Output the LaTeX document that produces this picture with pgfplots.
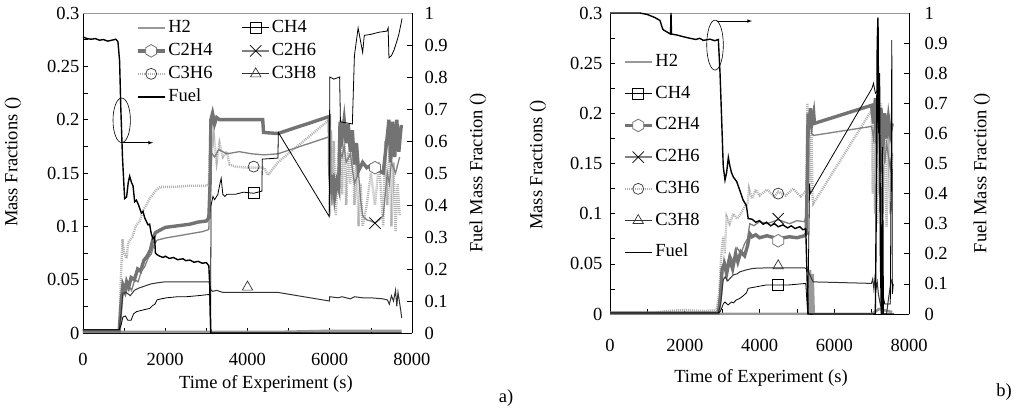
\documentclass[border=0pt]{standalone}
\usepackage{fontspec}
\setmainfont{Liberation Serif}
\usepackage{pgfplots}
\pgfplotsset{compat=1.18}

\newcommand\fs{\fontsize{18.5}{22}\selectfont}

% hexagon marker (not in the plotmarks library)
\pgfdeclareplotmark{hexagon}{%
  \pgfpathmoveto{\pgfpointpolar{90}{\pgfplotmarksize}}%
  \pgfpathlineto{\pgfpointpolar{150}{\pgfplotmarksize}}%
  \pgfpathlineto{\pgfpointpolar{210}{\pgfplotmarksize}}%
  \pgfpathlineto{\pgfpointpolar{270}{\pgfplotmarksize}}%
  \pgfpathlineto{\pgfpointpolar{330}{\pgfplotmarksize}}%
  \pgfpathlineto{\pgfpointpolar{30}{\pgfplotmarksize}}%
  \pgfpathclose
  \pgfusepathqfillstroke}

\pgfplotsset{
  base/.style={
    scale only axis, xmin=0, xmax=8000,
    tick align=inside, major tick length=5pt, minor tick length=5pt,
    tick style={black, line width=0.6pt},
    axis line style={black, line width=0.8pt},
    /pgf/number format/assume math mode=true,
    tick label style={font=\fs},
    clip mode=individual,
  },
  massax/.style={base,
    axis x line*=bottom, axis y line*=left,
    ymin=0, ymax=0.3,
    xtick={0,2000,4000,6000,8000}, minor xtick={1000,3000,5000,7000},
    ytick={0,0.05,0.1,0.15,0.2,0.25,0.3},
    minor ytick={0.025,0.075,0.125,0.175,0.225,0.275},
    scaled ticks=false,
    xticklabel style={/pgf/number format/1000 sep={}},
    yticklabel style={/pgf/number format/fixed, /pgf/number format/precision=2},
    xlabel={Time of Experiment (s)}, ylabel={Mass Fractions ()},
    legend cell align=left,
    legend style={draw=none, fill=none, inner sep=0pt, outer sep=0pt, font=\fs,
      column sep=0pt, anchor=north west,
      nodes={inner xsep=2pt, inner ysep=0pt, text height=12pt, text depth=3pt}},
    legend image code/.code={\draw[mark repeat=2,mark phase=2]
      plot coordinates {(0pt,0pt) (13.5pt,0pt) (27pt,0pt)};},
  },
  fuelax/.style={base,
    axis x line*=top, axis y line*=right, x axis line style={black!40},
    xtick=\empty, ymin=0, ymax=1,
    ytick={0,0.1,0.2,0.3,0.4,0.5,0.6,0.7,0.8,0.9,1},
    yticklabel style={/pgf/number format/fixed, /pgf/number format/precision=1},
    ylabel={Fuel Mass Fraction ()},
  },
  h2/.style={black!40, line width=2.6pt},
  ch4/.style={black, line width=0.8pt, mark=square, mark size=5.5pt,
    mark options={solid, fill=white, line width=0.7pt}},
  c2h4/.style={black!55, line width=3.4pt, mark=hexagon, mark size=6.3pt,
    mark options={solid, fill=white, line width=0.8pt}},
  c2h6/.style={black!50, line width=1.3pt, mark=x, mark size=8pt,
    mark options={solid, black, line width=0.8pt}},
  c3h6/.style={black!30, line width=2.4pt, dash pattern=on 1pt off 1pt,
    mark=o, mark size=5.5pt, mark options={solid, draw=black!80, fill=white, line width=0.7pt}},
  c3h8/.style={black!80, line width=1pt, mark=triangle, mark size=6pt,
    mark options={solid, fill=white, line width=0.7pt}},
  fuel/.style={black, line width=1.4pt},
}

\begin{document}
\begin{tikzpicture}
\useasboundingbox (0,0) rectangle (1023pt,410pt);

% ---------------- panel a ----------------
\begin{axis}[massax, at={(83pt,77pt)}, anchor=south west, width=329pt, height=320pt,
  xticklabel style={yshift=-16.5pt},
  every axis x label/.style={at={(axis description cs:0.556,-0.159)}, anchor=center, font=\fs},
  every axis y label/.style={at={(axis description cs:-0.213,0.534)}, anchor=center, rotate=90, font=\fs},
  legend columns=2,
  legend style={at={(axis description cs:0.161,0.977)}, row sep=8pt,
    /tikz/every even column/.append style={column sep=27pt}},
]
\addplot[h2] coordinates {(0,0.001) (3100,0.001) (4750,0.001) (6000,0.002) (7750,0.002)};
\addlegendentry{H2}

\addplot[c3h6, mark=none, forget plot] coordinates {
 (0,0.002) (880,0.002) (920,0.05) (960,0.088) (1000,0.075) (1060,0.07) (1100,0.085)
 (1200,0.09) (1280,0.1) (1380,0.105) (1460,0.115) (1540,0.12) (1620,0.126) (1700,0.13)
 (1800,0.135) (1900,0.137) (2200,0.137) (2600,0.138) (3000,0.138) (3060,0.14) (3090,0.175)
 (3120,0.165) (3180,0.185) (3250,0.16) (3320,0.178) (3400,0.165) (3500,0.17) (3560,0.158)
 (3700,0.156) (4000,0.155) (4150,0.155) (4400,0.155) (4500,0.148) (4740,0.16) (5990,0.2)
 (6000,0.11) (6030,0.19) (6060,0.12) (6100,0.18) (6150,0.11) (6200,0.16) (6260,0.2)
 (6300,0.13) (6350,0.19) (6400,0.12) (6450,0.17) (6500,0.14) (6550,0.18) (6600,0.12)
 (6650,0.16) (6700,0.1) (6750,0.14) (6800,0.1) (6900,0.12) (7000,0.15) (7100,0.12)
 (7200,0.16) (7300,0.1) (7350,0.18) (7400,0.12) (7450,0.17) (7500,0.1) (7550,0.16)
 (7600,0.095) (7650,0.14) (7700,0.11)};
\addplot[c2h6, mark=none, forget plot] coordinates {
 (0,0.002) (880,0.002) (930,0.025) (970,0.04) (1030,0.035) (1100,0.045) (1180,0.04)
 (1260,0.05) (1340,0.048) (1420,0.058) (1500,0.062) (1580,0.07) (1660,0.074) (1720,0.082)
 (1800,0.087) (2000,0.089) (2300,0.091) (2600,0.093) (2900,0.095) (3060,0.097) (3100,0.17)
 (3200,0.165) (3300,0.172) (3500,0.168) (3800,0.17) (4100,0.168) (4400,0.167) (4740,0.168)
 (5990,0.184) (6000,0.14) (6050,0.125) (6100,0.15) (6150,0.13) (6200,0.148) (6250,0.17)
 (6300,0.165) (6350,0.175) (6400,0.16) (6500,0.168) (6600,0.14) (6700,0.15) (6750,0.125)
 (6800,0.11) (6900,0.106) (7000,0.105) (7100,0.103) (7200,0.106) (7300,0.11) (7350,0.13)
 (7400,0.15) (7450,0.14) (7500,0.16) (7600,0.15) (7700,0.165)};
\addplot[c2h4, mark=none, forget plot] coordinates {
 (0,0.002) (880,0.002) (930,0.03) (970,0.045) (1020,0.04) (1060,0.048) (1110,0.043)
 (1170,0.052) (1250,0.05) (1330,0.06) (1400,0.058) (1480,0.068) (1560,0.072) (1640,0.078)
 (1700,0.088) (1760,0.094) (1850,0.096) (2000,0.099) (2200,0.1) (2400,0.101) (2600,0.102)
 (2800,0.104) (3000,0.105) (3060,0.108) (3090,0.14) (3110,0.2) (3150,0.206) (3200,0.196)
 (3250,0.202) (3320,0.2) (3500,0.2) (3800,0.2) (4100,0.2) (4370,0.2) (4390,0.188)
 (4740,0.187) (5990,0.203) (6000,0.15) (6040,0.13) (6080,0.148) (6120,0.128) (6170,0.142)
 (6220,0.135) (6250,0.198) (6300,0.184) (6350,0.2) (6400,0.178) (6450,0.196) (6500,0.17)
 (6550,0.19) (6600,0.158) (6650,0.178) (6700,0.152) (6800,0.16) (6900,0.155) (7000,0.157)
 (7100,0.155) (7200,0.152) (7300,0.15) (7400,0.185) (7440,0.2) (7480,0.16) (7530,0.198)
 (7580,0.165) (7630,0.2) (7680,0.17) (7740,0.195)};
\addplot[c3h8, mark=none, forget plot] coordinates {
 (0,0.003) (880,0.003) (930,0.02) (970,0.037) (1050,0.038) (1150,0.035) (1250,0.04)
 (1350,0.042) (1500,0.044) (1650,0.046) (1800,0.047) (2000,0.048) (2500,0.048) (3000,0.048)
 (3070,0.048) (3100,0.041) (3150,0.039) (3250,0.04) (3400,0.038) (4000,0.038) (4750,0.038)
 (5990,0.03) (6000,0.034) (6200,0.033) (6300,0.034) (6500,0.032) (6600,0.034) (6800,0.033)
 (7000,0.033) (7300,0.032) (7400,0.031) (7450,0.027) (7500,0.035) (7550,0.03) (7600,0.04)
 (7630,0.025) (7660,0.038) (7700,0.028) (7730,0.02) (7750,0.014)};
\addplot[ch4, mark=none, forget plot] coordinates {
 (0,0.003) (880,0.003) (930,0.008) (970,0.015) (1030,0.016) (1090,0.012) (1170,0.012)
 (1230,0.018) (1300,0.02) (1400,0.021) (1500,0.022) (1620,0.023) (1700,0.026) (1750,0.027)
 (1800,0.031) (1900,0.032) (2030,0.033) (2300,0.034) (2510,0.034) (2800,0.035) (3040,0.036)
 (3080,0.036) (3100,0.0) (3115,0.12) (3160,0.128) (3200,0.125) (3280,0.13) (3330,0.14)
 (3360,0.145) (3400,0.13) (3450,0.128) (3500,0.13) (3700,0.13) (3900,0.132) (4150,0.131)
 (4350,0.133) (4360,0.163) (4740,0.164) (4750,0.188) (5990,0.109) (6000,0.24) (6100,0.238)
 (6240,0.24) (6260,0.198) (6400,0.197) (6550,0.196) (6600,0.26) (6690,0.286) (6800,0.263)
 (6840,0.279) (7000,0.28) (7200,0.282) (7390,0.283) (7420,0.286) (7440,0.258) (7500,0.26)
 (7560,0.265) (7620,0.272) (7680,0.28) (7760,0.295)};

\addplot[ch4] coordinates {(4150,0.131)};
\addlegendentry{CH4}
\addplot[c2h4] coordinates {(7100,0.155)};
\addlegendentry{C2H4}
\addplot[c2h6] coordinates {(7100,0.103)};
\addlegendentry{C2H6}
\addplot[c3h6] coordinates {(4150,0.156)};
\addlegendentry{C3H6}
\addplot[c3h8] coordinates {(4000,0.043)};
\addlegendentry{C3H8}
\addlegendimage{fuel}
\addlegendentry{Fuel}

\draw[line width=0.6pt] (axis cs:941,0.1994) ellipse [x radius=8.7pt, y radius=22.3pt];
\draw[line width=0.6pt, -latex] (axis cs:974,0.1784) -- (axis cs:1702,0.1784);
\node[font=\fs] at (axis description cs:1.286,-0.203) {a)};
\end{axis}

\begin{axis}[fuelax, at={(83pt,77pt)}, anchor=south west, width=329pt, height=320pt,
  yticklabel style={xshift=9pt},
  every axis y label/.style={at={(axis description cs:1.2006,0.5)}, anchor=center, rotate=90, font=\fs},
]
\addplot[fuel] coordinates {
 (0,0.925) (100,0.92) (200,0.918) (300,0.92) (400,0.915) (500,0.917) (600,0.912) (700,0.915)
 (800,0.918) (850,0.91) (890,0.85) (920,0.7) (960,0.55) (1000,0.45) (1013,0.42) (1060,0.425)
 (1100,0.47) (1135,0.49) (1180,0.47) (1216,0.46) (1257,0.41) (1300,0.415) (1350,0.4)
 (1419,0.375) (1460,0.38) (1500,0.36) (1581,0.338) (1620,0.34) (1660,0.31) (1702,0.295)
 (1743,0.3) (1760,0.25) (1800,0.245) (1865,0.24) (1950,0.236) (2000,0.24) (2100,0.233)
 (2200,0.236) (2300,0.229) (2432,0.232) (2500,0.226) (2600,0.228) (2700,0.221) (2800,0.224)
 (2900,0.218) (3000,0.22) (3060,0.21) (3081,0.15) (3110,0.0) (4750,0.0) (6000,0.0) (7750,0.0)};
\end{axis}

% ---------------- panel b ----------------
\begin{axis}[massax, at={(610pt,96pt)}, anchor=south west, width=299pt, height=301pt,
  xticklabel style={yshift=-21.5pt}, yticklabel style={xshift=-4pt},
  every axis x label/.style={at={(axis description cs:0.505,-0.2126)}, anchor=center, font=\fs},
  every axis y label/.style={at={(axis description cs:-0.241,0.495)}, anchor=center, rotate=90, font=\fs},
  legend style={at={(axis description cs:0.0435,0.862)}, row sep=16.7pt},
]
\addplot[h2] coordinates {(0,0.0) (5320,0.0) (5350,0.044) (5380,0.0) (5420,0.04) (5450,0.0)
 (7000,0.0) (7200,0.005) (7550,0.002)};
\addlegendentry{H2}

\addplot[c3h6, mark=none, forget plot] coordinates {
 (0,0.001) (1200,0.001) (1500,0.003) (2000,0.004) (2500,0.003) (2850,0.004) (2920,0.02)
 (2980,0.06) (3030,0.077) (3070,0.06) (3120,0.097) (3200,0.09) (3300,0.1) (3400,0.095)
 (3500,0.1) (3600,0.107) (3680,0.11) (3720,0.125) (3800,0.115) (3900,0.124) (4000,0.118)
 (4200,0.124) (4400,0.117) (4500,0.122) (4700,0.118) (4900,0.125) (5100,0.117) (5250,0.123)
 (5280,0.21) (5300,0.12) (5330,0.2) (5360,0.13) (5390,0.19) (5420,0.115) (5440,0.11)
 (7000,0.203) (7030,0.12) (7060,0.21) (7090,0.1) (7120,0.2) (7150,0.09) (7180,0.19)
 (7210,0.12) (7250,0.21) (7300,0.1) (7350,0.2) (7400,0.087) (7450,0.18) (7500,0.1) (7550,0.16)};
\addplot[c2h6, mark=none, forget plot] coordinates {
 (0,0.001) (2900,0.001) (2960,0.02) (3000,0.04) (3050,0.055) (3100,0.045) (3200,0.06)
 (3300,0.052) (3400,0.066) (3500,0.06) (3600,0.07) (3680,0.075) (3740,0.09) (3850,0.088)
 (4000,0.092) (4200,0.09) (4500,0.094) (4800,0.09) (5000,0.093) (5200,0.092) (5260,0.1)
 (5290,0.19) (5320,0.175) (5360,0.2) (5400,0.18) (5450,0.178) (7000,0.187) (7050,0.175)
 (7100,0.2) (7150,0.16) (7200,0.19) (7250,0.14) (7300,0.18) (7350,0.15) (7400,0.17)
 (7500,0.145) (7550,0.16)};
\addplot[c2h4, mark=none, forget plot] coordinates {
 (0,0.001) (2900,0.001) (2960,0.02) (3000,0.045) (3060,0.05) (3120,0.04) (3200,0.055)
 (3280,0.045) (3360,0.06) (3420,0.052) (3500,0.062) (3600,0.058) (3680,0.068) (3740,0.08)
 (3800,0.077) (3900,0.079) (4000,0.076) (4200,0.078) (4500,0.075) (4800,0.077) (5000,0.076)
 (5200,0.078) (5250,0.08) (5280,0.14) (5300,0.2) (5330,0.185) (5360,0.205) (5400,0.19)
 (5450,0.2) (5470,0.19) (7000,0.208) (7050,0.19) (7100,0.215) (7130,0.17) (7160,0.21)
 (7200,0.18) (7250,0.205) (7300,0.165) (7350,0.2) (7400,0.175) (7450,0.195) (7500,0.18)
 (7550,0.19)};
\addplot[c3h8, mark=none, forget plot] coordinates {
 (0,0.001) (2900,0.001) (2960,0.01) (3030,0.034) (3080,0.037) (3150,0.033) (3297,0.039)
 (3400,0.04) (3474,0.042) (3650,0.044) (3831,0.0455) (4200,0.046) (4800,0.046) (5200,0.046)
 (5260,0.045) (5300,0.043) (5345,0.039) (5435,0.032) (6000,0.0315) (6994,0.0305) (7030,0.035)
 (7060,0.025) (7090,0.036) (7120,0.026) (7150,0.032) (7180,0.02) (7230,0.01) (7300,0.0)
 (7400,0.0) (7450,0.015) (7500,0.028) (7550,0.035)};
\addplot[ch4, mark=none, forget plot] coordinates {
 (0,0.001) (2900,0.001) (2960,0.003) (3030,0.01) (3074,0.012) (3160,0.009) (3250,0.012)
 (3300,0.011) (3380,0.014) (3474,0.0156) (3560,0.018) (3650,0.021) (3697,0.0256) (3900,0.027)
 (4187,0.029) (4500,0.029) (4800,0.029) (5100,0.03) (5238,0.0305) (5290,0.0) (5340,0.13)
 (5360,0.12) (7010,0.225) (7050,0.23) (7100,0.22) (7200,0.225) (7250,0.03) (7350,0.01)
 (7500,0.01) (7540,0.273) (7555,0.02) (7580,0.03)};

\addplot[ch4] coordinates {(4500,0.029)};
\addlegendentry{CH4}
\addplot[c2h4] coordinates {(4500,0.073)};
\addlegendentry{C2H4}
\addplot[c2h6] coordinates {(4500,0.095)};
\addlegendentry{C2H6}
\addplot[c3h6] coordinates {(4500,0.12)};
\addlegendentry{C3H6}
\addplot[c3h8] coordinates {(4500,0.048)};
\addlegendentry{C3H8}
\addlegendimage{fuel}
\addlegendentry{Fuel}

\draw[line width=0.6pt] (axis cs:2810,0.268) ellipse [x radius=8.3pt, y radius=25pt];
\draw[line width=0.6pt, -latex] (axis cs:2863,0.292) -- (axis cs:3800,0.292);
\node[font=\fs] at (axis description cs:1.318,-0.259) {b)};
\end{axis}

\begin{axis}[fuelax, at={(610pt,96pt)}, anchor=south west, width=299pt, height=301pt,
  yticklabel style={xshift=12pt},
  every axis y label/.style={at={(axis description cs:1.244,0.468)}, anchor=center, rotate=90, font=\fs},
]
\addplot[fuel] coordinates {
 (0,1.0) (800,1.0) (1000,0.995) (1200,0.985) (1338,0.975) (1400,0.95) (1427,0.944)
 (1550,0.935) (1620,0.93) (1632,1.0) (1645,0.93) (1784,0.927) (2000,0.92) (2141,0.916)
 (2300,0.912) (2400,0.916) (2500,0.909) (2676,0.913) (2800,0.908) (2899,0.912) (2944,0.8)
 (2985,0.655) (3030,0.49) (3077,0.445) (3120,0.47) (3166,0.52) (3210,0.49) (3250,0.47)
 (3300,0.455) (3390,0.44) (3475,0.41) (3560,0.379) (3650,0.36) (3697,0.317) (3800,0.315)
 (3900,0.305) (4000,0.31) (4100,0.298) (4187,0.305) (4300,0.293) (4400,0.3) (4500,0.29)
 (4630,0.296) (4750,0.286) (4850,0.293) (4950,0.284) (5078,0.29) (5160,0.28) (5238,0.283)
 (5300,0.0) (7100,0.0) (7130,0.45) (7150,0.9) (7170,0.985) (7190,0.6) (7210,0.8)
 (7235,0.2) (7260,0.0) (7290,0.555) (7310,0.0) (7600,0.0)};
\end{axis}
\end{tikzpicture}
\end{document}
